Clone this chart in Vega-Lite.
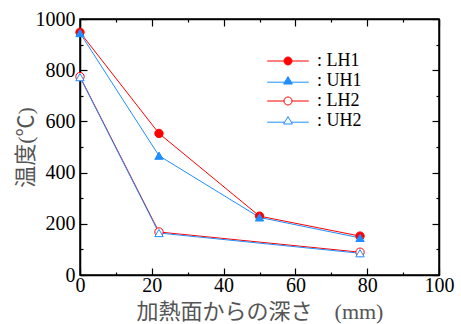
{
  "$schema": "https://vega.github.io/schema/vega-lite/v6.json",
  "width": 359,
  "height": 256,
  "autosize": "none",
  "padding": {"left": 80, "top": 19, "right": 22, "bottom": 49},
  "background": "white",
  "config": {
    "view": {"stroke": "black", "strokeWidth": 1.5},
    "axis": {"grid": false, "domainColor": "black", "domainWidth": 1.5, "tickColor": "black", "tickWidth": 1.2,
      "labelFont": "Liberation Serif", "labelFontSize": 20, "labelColor": "black",
      "titleFont": "Liberation Serif, Noto Sans CJK JP", "titleFontSize": 22, "titleFontWeight": "normal", "titleColor": "#555555"},
    "legend": {"symbolOpacity": 1, "symbolStrokeWidth": 1}
  },
  "data": {"values": [
    {"series": "LH1", "depth": 0, "temp": 948},
    {"series": "LH1", "depth": 22, "temp": 553},
    {"series": "LH1", "depth": 50, "temp": 230},
    {"series": "LH1", "depth": 78, "temp": 152},
    {"series": "UH1", "depth": 0, "temp": 945},
    {"series": "UH1", "depth": 22, "temp": 466},
    {"series": "UH1", "depth": 50, "temp": 225},
    {"series": "UH1", "depth": 78, "temp": 145},
    {"series": "LH2", "depth": 0, "temp": 775},
    {"series": "LH2", "depth": 22, "temp": 168},
    {"series": "LH2", "depth": 78, "temp": 89},
    {"series": "UH2", "depth": 0, "temp": 773},
    {"series": "UH2", "depth": 22, "temp": 164},
    {"series": "UH2", "depth": 78, "temp": 85}
  ]},
  "resolve": {"scale": {"shape": "independent", "fill": "independent", "stroke": "independent"}},
  "layer": [
    {
      "mark": {"type": "line", "strokeWidth": 1},
      "encoding": {
        "x": {"field": "depth", "type": "quantitative", "scale": {"domain": [0, 100], "nice": false},
          "axis": {"orient": "bottom", "values": [0,10,20,30,40,50,60,70,80,90,100],
            "labelExpr": "datum.value % 20 === 0 ? '' + datum.value : ''",
            "labelFont": "Liberation Serif", "labelFontSize": 20,
            "tickSize": {"condition": {"test": "datum.value % 20 === 0", "value": -7}, "value": -3},
            "labelPadding": 7, "labelFlush": false, "labelOverlap": false,
            "title": "加熱面からの深さ　(mm)", "titlePadding": 2}},
        "y": {"field": "temp", "type": "quantitative", "scale": {"domain": [0, 1000], "nice": false},
          "axis": {"orient": "left", "values": [0,100,200,300,400,500,600,700,800,900,1000],
            "labelExpr": "datum.value % 200 === 0 ? '' + datum.value : ''",
            "labelFont": "Liberation Serif", "labelFontSize": 20,
            "tickSize": {"condition": {"test": "datum.value % 200 === 0", "value": -7}, "value": -3},
            "labelPadding": 12, "labelFlush": false, "labelOverlap": false,
            "title": "温度(℃)", "titleX": -43, "titleY": 128, "titleAngle": -90, "titleBaseline": "bottom", "titleAlign": "center"}},
        "color": {"field": "series", "type": "nominal",
          "scale": {"domain": ["LH1", "UH1", "LH2", "UH2"], "range": ["#ff0000", "#1f8fff", "#ff0000", "#1f8fff"]},
          "legend": null}
      }
    },
    {
      "mark": {"type": "point", "size": 70, "opacity": 1, "strokeWidth": 1},
      "encoding": {
        "x": {"field": "depth", "type": "quantitative",
          "axis": {"orient": "top", "values": [0,10,20,30,40,50,60,70,80,90,100], "labels": false, "title": null,
            "tickSize": {"condition": {"test": "datum.value % 20 === 0", "value": -7}, "value": -3}}},
        "y": {"field": "temp", "type": "quantitative",
          "axis": {"orient": "right", "values": [0,100,200,300,400,500,600,700,800,900,1000], "labels": false, "title": null,
            "tickSize": {"condition": {"test": "datum.value % 200 === 0", "value": -7}, "value": -3}}},
        "color": {"field": "series", "type": "nominal", "legend": null},
        "fill": {"field": "series", "type": "nominal",
          "scale": {"domain": ["LH1", "UH1", "LH2", "UH2"], "range": ["#ff0000", "#1f8fff", "white", "white"]},
          "legend": null},
        "shape": {"field": "series", "type": "nominal",
          "scale": {"domain": ["LH1", "UH1", "LH2", "UH2"], "range": ["circle", "triangle-up", "circle", "triangle-up"]},
          "legend": null}
      }
    },
    {
      "mark": {"type": "point", "size": 64, "opacity": 0, "strokeWidth": 1},
      "encoding": {
        "x": {"field": "depth", "type": "quantitative", "axis": null},
        "y": {"field": "temp", "type": "quantitative", "axis": null},
        "stroke": {"field": "series", "type": "nominal",
          "scale": {"domain": ["LH1", "UH1", "LH2", "UH2"], "range": ["#ff0000", "#1f8fff", "#ff0000", "#1f8fff"]},
          "legend": {"orient": "none", "legendX": 199, "legendY": 33, "title": null, "padding": 0,
            "labelExpr": "': ' + datum.label", "labelFont": "Liberation Serif", "labelFontSize": 18, "labelColor": "black",
            "symbolSize": 64, "labelOffset": 20, "rowPadding": 2}},
        "fill": {"field": "series", "type": "nominal",
          "scale": {"domain": ["LH1", "UH1", "LH2", "UH2"], "range": ["#ff0000", "#1f8fff", "white", "white"]},
          "legend": {"orient": "none", "legendX": 199, "legendY": 33, "title": null, "padding": 0,
            "labelExpr": "': ' + datum.label", "labelFont": "Liberation Serif", "labelFontSize": 18, "labelColor": "black",
            "symbolSize": 64, "labelOffset": 20, "rowPadding": 2}},
        "shape": {"field": "series", "type": "nominal",
          "scale": {"domain": ["LH1", "UH1", "LH2", "UH2"], "range": [
            "M-5.2,0H-1M1,0H5.2M1,0A1,1 0 1,1 -1,0A1,1 0 1,1 1,0Z",
            "M-5.2,0.3H-0.83M0.83,0.3H5.2M0,-1.1L1.1,0.75L-1.1,0.75Z",
            "M-5.2,0H-1M1,0H5.2M1,0A1,1 0 1,1 -1,0A1,1 0 1,1 1,0Z",
            "M-5.2,0.3H-0.83M0.83,0.3H5.2M0,-1.1L1.1,0.75L-1.1,0.75Z"]},
          "legend": {"orient": "none", "legendX": 199, "legendY": 33, "title": null, "padding": 0,
            "labelExpr": "': ' + datum.label", "labelFont": "Liberation Serif", "labelFontSize": 18, "labelColor": "black",
            "symbolSize": 64, "labelOffset": 20, "rowPadding": 2}}
      }
    }
  ]
}
